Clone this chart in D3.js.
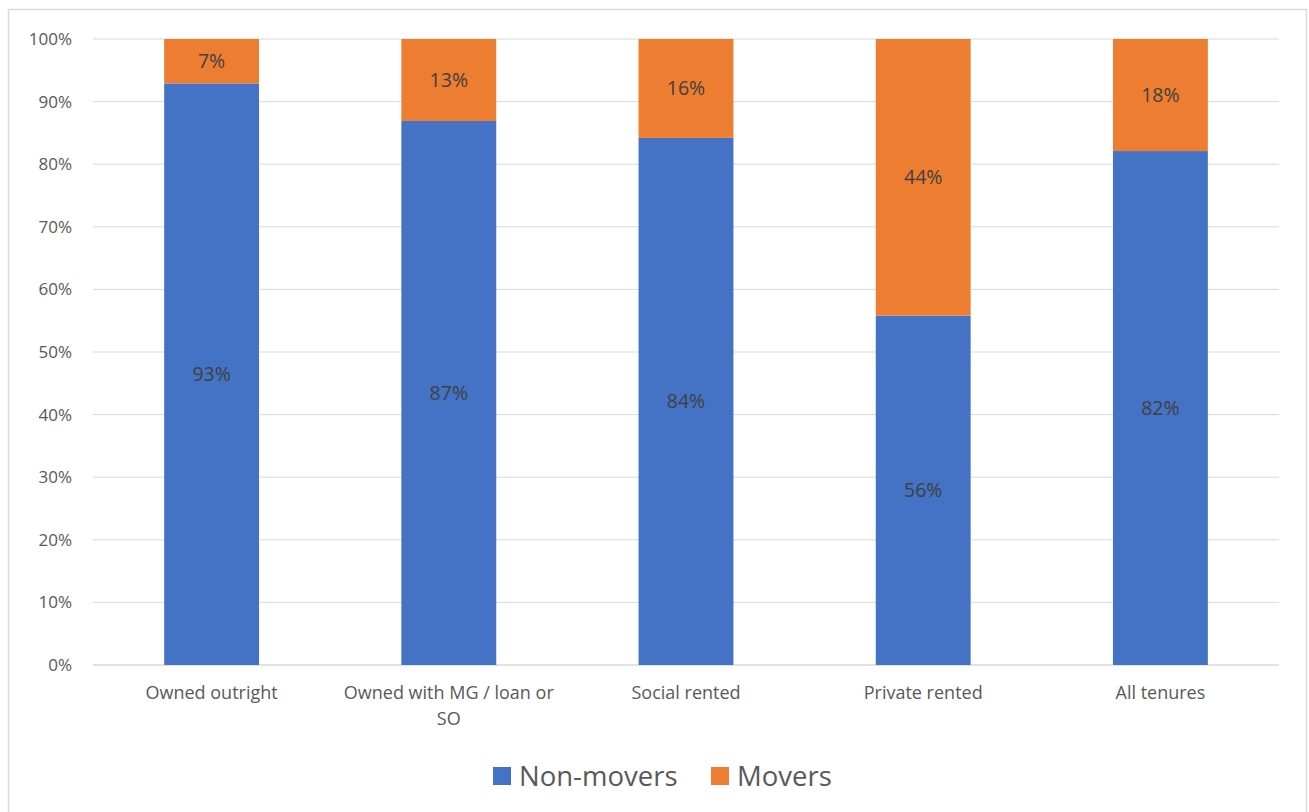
<!DOCTYPE html>
<html>
<head>
<meta charset="utf-8">
<script src="https://cdn.jsdelivr.net/npm/d3@7"></script>
<style>
  body { margin: 0; background: #fff; }
  text { font-family: "Open Sans", "Noto Sans", sans-serif; }
</style>
</head>
<body>
<svg id="chart" width="1309" height="812"></svg>
<script>
// tenure categories (label lines)
var categories = ['Owned outright', 'Owned with MG / loan or SO', 'Social rented', 'Private rented', 'All tenures'];
var categoryLines = [['Owned outright'], ['Owned with MG / loan or', 'SO'], ['Social rented'], ['Private rented'], ['All tenures']];
var nonMovers = [92.9, 86.9, 84.2, 55.8, 82.1];
var movers = [7.1, 13.1, 15.8, 44.2, 17.9];
var nonMoverLabels = ['93%', '87%', '84%', '56%', '82%'];
var moverLabels = ['7%', '13%', '16%', '44%', '18%'];
var yTicks = [0, 10, 20, 30, 40, 50, 60, 70, 80, 90, 100];
var seriesNames = ['Non-movers', 'Movers'];
var colors = ['#4472C4', '#ED7D31'];

var svg = d3.select('#chart');

// outer frame
svg.append('rect')
  .attr('x', 8.5).attr('y', 9.5)
  .attr('width', 1298).attr('height', 810)
  .attr('fill', 'none')
  .attr('stroke', '#d9d9d9')
  .attr('stroke-width', 1.5);

var margins = { left: 93, right: 1279, top: 39, bottom: 665 };

var x = d3.scaleBand()
  .domain(categories)
  .range([margins.left, margins.right])
  .paddingInner(0.6)
  .paddingOuter(0.3);

var y = d3.scaleLinear()
  .domain([0, 100])
  .range([margins.bottom, margins.top]);

// gridlines
svg.append('g')
  .selectAll('line')
  .data(yTicks)
  .enter().append('line')
  .attr('x1', margins.left).attr('x2', margins.right)
  .attr('y1', function(d) { return y(d); })
  .attr('y2', function(d) { return y(d); })
  .attr('stroke', '#d9d9d9')
  .attr('stroke-width', function(d) { return d === 0 ? 1.5 : 1; });

// y axis labels
svg.append('g')
  .selectAll('text')
  .data(yTicks)
  .enter().append('text')
  .attr('x', 72)
  .attr('y', function(d) { return y(d); })
  .attr('dy', '0.35em')
  .attr('text-anchor', 'end')
  .attr('font-size', 17)
  .attr('fill', '#595959')
  .text(function(d) { return d + '%'; });

var stacked = d3.stack().keys([0, 1])(categories.map(function(c, i) {
  return { 0: nonMovers[i], 1: movers[i], cat: c, i: i };
}));
var labelSets = [nonMoverLabels, moverLabels];

stacked.forEach(function(layer, k) {
  var g = svg.append('g');
  g.selectAll('rect')
    .data(layer)
    .enter().append('rect')
    .attr('x', function(d) { return x(d.data.cat); })
    .attr('width', x.bandwidth())
    .attr('y', function(d) { return y(d[1]); })
    .attr('height', function(d) { return y(d[0]) - y(d[1]); })
    .attr('fill', colors[k]);
  g.selectAll('text')
    .data(layer)
    .enter().append('text')
    .attr('x', function(d) { return x(d.data.cat) + x.bandwidth() / 2; })
    .attr('y', function(d) { return (y(d[0]) + y(d[1])) / 2; })
    .attr('dy', '0.35em')
    .attr('text-anchor', 'middle')
    .attr('font-size', 19.5)
    .attr('fill', '#404040')
    .text(function(d) { return labelSets[k][d.data.i]; });
});

// category labels
var catG = svg.append('g');
categories.forEach(function(c, i) {
  var t = catG.append('text')
    .attr('x', x(c) + x.bandwidth() / 2)
    .attr('y', 699)
    .attr('text-anchor', 'middle')
    .attr('font-size', 18)
    .attr('fill', '#595959');
  categoryLines[i].forEach(function(line, j) {
    t.append('tspan')
      .attr('x', x(c) + x.bandwidth() / 2)
      .attr('dy', j === 0 ? 0 : 26)
      .text(line);
  });
});

// legend
var legendX = [493, 711];
var legend = svg.append('g');
seriesNames.forEach(function(name, k) {
  legend.append('rect')
    .attr('x', legendX[k]).attr('y', 767)
    .attr('width', 18).attr('height', 18)
    .attr('fill', colors[k]);
  legend.append('text')
    .attr('x', legendX[k] + 26)
    .attr('y', 776)
    .attr('dy', '0.35em')
    .attr('font-size', 27.5)
    .attr('fill', '#595959')
    .text(name);
});
</script>
</body>
</html>
